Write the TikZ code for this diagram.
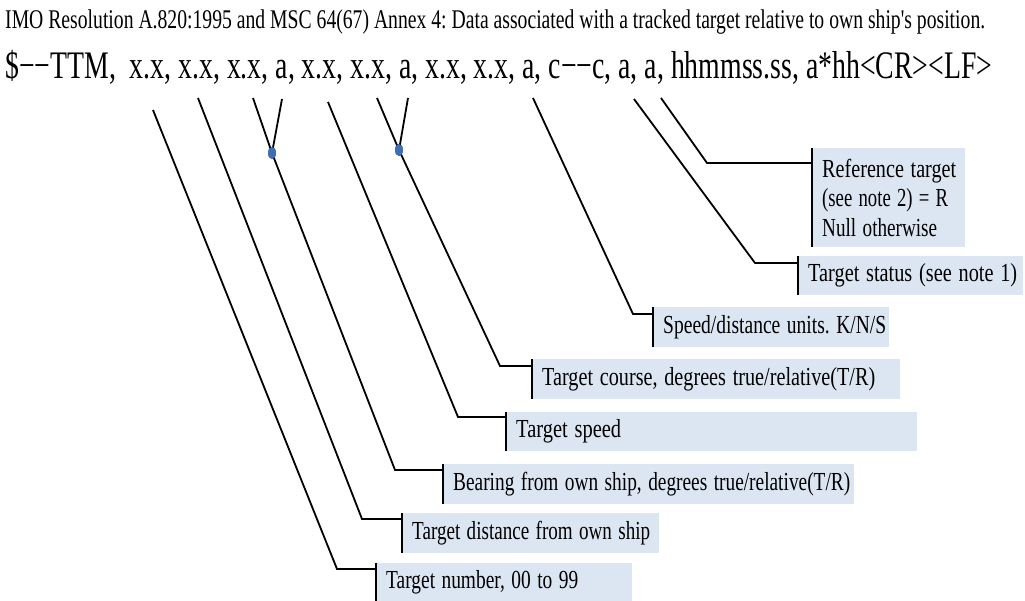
\documentclass[tikz,border=0pt]{standalone}
\usepackage{fontspec}
\setmainfont{Liberation Serif}
\usetikzlibrary{shapes.geometric}
\definecolor{tagfill}{RGB}{220,230,242}
\definecolor{knotblue}{RGB}{64,110,180}
% scale a piece of text horizontally to a given width, keeping its height
\newcommand\fitw[2]{\resizebox{#1pt}{\height}{#2}}
\frenchspacing

\begin{document}
\begin{tikzpicture}[x=1pt,y=-1pt,
  wire/.style={line width=1.8pt, black},
  bar/.style={line width=2.2pt, black},
  tag/.style={fill=tagfill, anchor=north west, inner xsep=10pt, inner ysep=0pt,
              align=left, font=\fontsize{26}{29.5}\selectfont},
  knot/.style={ellipse, fill=knotblue, minimum width=8pt, minimum height=12pt, inner sep=0pt},
]
\useasboundingbox (0,0) rectangle (1025,600);

% heading and sentence layout
\node[anchor=base west, inner sep=0pt] (title) at (5,28)
  {\fontsize{27}{27}\selectfont\fitw{980}{IMO Resolution A.820:1995 and MSC 64(67) Annex 4: Data associated with a tracked target relative to own ship\textquotesingle s position.}};
\node[anchor=base west, inner sep=0pt] (sentence) at (5,78)
  {\fontsize{39}{39}\selectfont\fitw{987}{\$−−TTM,\ \ x.x, x.x, x.x, a, x.x, x.x, a, x.x, x.x, a, c−−c, a, a, hhmmss.ss, a*hh<CR><LF>}};

% field descriptions
\node[tag, text width=133pt, minimum height=99pt] (ref) at (812,148)
  {\fitw{134}{Reference target}\\\fitw{126}{(see note 2) = R}\\\fitw{115}{Null otherwise}};
\node[tag, text width=205pt, minimum height=39pt] (status) at (798,256)
  {\fitw{209}{Target status (see note 1)}};
\node[tag, text width=216pt, minimum height=40pt] (units) at (653,307)
  {\fitw{223}{Speed/distance units. K/N/S}};
\node[tag, text width=348pt, minimum height=40pt] (course) at (532,359)
  {\fitw{333}{Target course, degrees true/relative(T/R)}};
\node[tag, text width=391pt, minimum height=39pt] (speed) at (506,412)
  {\fitw{105}{Target speed}};
\node[tag, text width=391pt, minimum height=40pt] (bearing) at (443,464)
  {\fitw{397}{Bearing from own ship, degrees true/relative(T/R)}};
\node[tag, text width=237pt, minimum height=40pt] (dist) at (402,513)
  {\fitw{238}{Target distance from own ship}};
\node[tag, text width=236pt, minimum height=38pt] (num) at (376,563)
  {\fitw{192}{Target number, 00 to 99}};

% dark bars on the left edge of each description
\foreach \n in {ref,status,units,course,speed,bearing,dist,num}
  \draw[bar] (\n.north west) -- (\n.south west);

% field anchors under the sentence
\coordinate (fnum) at (153,110);
\coordinate (fdist) at (198,98);
\coordinate (fbrg) at (253,98);
\coordinate (fbrgref) at (282,99);
\coordinate (fspd) at (328,102);
\coordinate (fcrs) at (377,98);
\coordinate (fcrsref) at (408,98);
\coordinate (funits) at (533,98);
\coordinate (fstat) at (634,99);
\coordinate (fref) at (661,98);

% elbows
\coordinate (enum) at (337,569);
\coordinate (edist) at (362,519);
\coordinate (ebrg) at (395,470);
\coordinate (espd) at (458,417);
\coordinate (ecrs) at (500,366);
\coordinate (eunits) at (633,314);
\coordinate (estat) at (755,263);
\coordinate (eref) at (707,163);

% junctions where true/relative flags join their values
\node[knot] (kbrg) at (272,153) {};
\node[knot] (kcrs) at (399,150) {};

% leader lines
\draw[wire] (fnum) -- (enum) -- (enum -| num.west);
\draw[wire] (fdist) -- (edist) -- (edist -| dist.west);
\draw[wire] (fbrg) -- (kbrg.center) -- (ebrg) -- (ebrg -| bearing.west);
\draw[wire] (fbrgref) -- (kbrg.center);
\draw[wire] (fspd) -- (espd) -- (espd -| speed.west);
\draw[wire] (fcrs) -- (kcrs.center) -- (ecrs) -- (ecrs -| course.west);
\draw[wire] (fcrsref) -- (kcrs.center);
\draw[wire] (funits) -- (eunits) -- (eunits -| units.west);
\draw[wire] (fstat) -- (estat) -- (estat -| status.west);
\draw[wire] (fref) -- (eref) -- (eref -| ref.west);

% redraw the junctions on top of the lines
\node[knot] at (kbrg) {};
\node[knot] at (kcrs) {};
\end{tikzpicture}
\end{document}
